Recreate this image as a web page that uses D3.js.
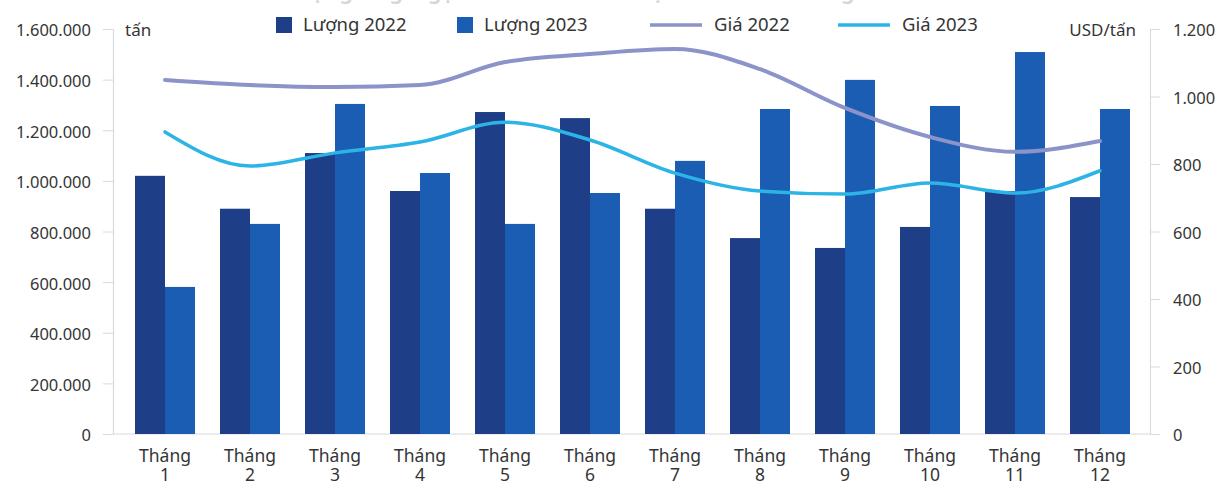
<!DOCTYPE html>
<html>
<head>
<meta charset="utf-8">
<script src="https://cdn.jsdelivr.net/npm/d3@7/dist/d3.min.js"></script>
<style>
  html, body { margin: 0; padding: 0; background: #ffffff; }
  svg { display: block; font-family: "Noto Sans", "DejaVu Sans", sans-serif; }
</style>
</head>
<body>
<svg id="chart" width="1220" height="487"></svg>
<script>
// Monthly rice export volume (tonnes) and price (USD/tonne), 2022 vs 2023
const months = ["1", "2", "3", "4", "5", "6", "7", "8", "9", "10", "11", "12"];
const volume2022 = [1020000, 890000, 1110000, 960000, 1272000, 1248000, 890000, 774000, 735000, 818000, 960000, 936000];
const volume2023 = [581000, 830000, 1304000, 1031000, 830000, 952000, 1079000, 1284000, 1399000, 1296000, 1509000, 1284000];
const price2022 = [1049, 1034, 1028, 1034, 1102, 1126, 1141, 1081, 966, 880, 836, 868];
const price2023 = [895, 794, 833, 865, 924, 871, 773, 720, 711, 744, 714, 780];
const leftTicks = [0, 200000, 400000, 600000, 800000, 1000000, 1200000, 1400000, 1600000];
const rightTicks = [0, 200, 400, 600, 800, 1000, 1200];
const seriesNames = ["Lượng 2022", "Lượng 2023", "Giá 2022", "Giá 2023"];
const titleText = "Diễn biến lượng và giá gạo xuất khẩu của Việt Nam theo tháng năm 2022 - 2023";

const C = {
  bar22: "#1e3f88",
  bar23: "#1b5db2",
  line22: "#8b93c9",
  line23: "#2db4e6",
  axis: "#dadada",
  text: "#353535"
};

const svg = d3.select("#chart");
const plotTop = 29, plotBottom = 434, plotLeft = 113, plotRight = 1150;

const vn = d3.formatLocale({ decimal: ",", thousands: ".", grouping: [3], currency: ["", ""] });
const fmt = vn.format(",");

const x = d3.scaleBand().domain(months).range([122.5, 1142.5])
  .paddingInner(25 / 85).paddingOuter(12.5 / 85);
const xSub = d3.scaleBand().domain(["2022", "2023"]).range([0, x.bandwidth()]);
const yL = d3.scaleLinear().domain([0, 1600000]).range([plotBottom, plotTop]);
const yR = d3.scaleLinear().domain([0, 1200]).range([plotBottom, plotTop]);

// Title (runs off the top edge, only its lowest strokes remain)
svg.append("text")
  .attr("x", 607).attr("y", -1)
  .attr("text-anchor", "middle")
  .attr("font-size", 22).attr("font-weight", 600)
  .attr("fill", "#9a9a9a").attr("opacity", 0.4)
  .text(titleText);

// Baseline
svg.append("line")
  .attr("x1", plotLeft).attr("x2", plotRight)
  .attr("y1", plotBottom).attr("y2", plotBottom)
  .attr("stroke", C.axis).attr("stroke-width", 1.2);

// Left axis
const gL = svg.append("g").attr("transform", `translate(${plotLeft},0)`)
  .call(d3.axisLeft(yL).tickValues(leftTicks).tickFormat(fmt).tickSizeInner(10).tickSizeOuter(0).tickPadding(12));
// Right axis
const gR = svg.append("g").attr("transform", `translate(${plotRight},0)`)
  .call(d3.axisRight(yR).tickValues(rightTicks).tickFormat(fmt).tickSizeInner(10).tickSizeOuter(0).tickPadding(13));

[gL, gR].forEach(g => {
  g.select(".domain").attr("stroke", C.axis).attr("stroke-width", 1.2);
  g.selectAll(".tick line").attr("stroke", C.axis);
  g.selectAll(".tick text")
    .attr("font-family", "'Noto Sans', sans-serif")
    .attr("font-size", 16.5).attr("fill", C.text)
    .attr("dy", "0.42em");
});

// Bars
const groups = svg.append("g").selectAll("g")
  .data(months.map((m, i) => ({ m, v: [volume2022[i], volume2023[i]] })))
  .join("g")
  .attr("transform", d => `translate(${x(d.m)},0)`);

groups.selectAll("rect")
  .data(d => [{ k: "2022", v: d.v[0] }, { k: "2023", v: d.v[1] }])
  .join("rect")
  .attr("x", d => xSub(d.k))
  .attr("width", xSub.bandwidth())
  .attr("y", d => yL(d.v))
  .attr("height", d => yL(0) - yL(d.v))
  .attr("fill", d => d.k === "2022" ? C.bar22 : C.bar23);

// Price lines
const cx = m => x(m) + x.bandwidth() / 2;
const line = d3.line().x(d => cx(d[0])).y(d => yR(d[1])).curve(d3.curveMonotoneX);
svg.append("path")
  .datum(months.map((m, i) => [m, price2022[i]]))
  .attr("d", line).attr("fill", "none")
  .attr("stroke", C.line22).attr("stroke-width", 4).attr("stroke-linecap", "round");
svg.append("path")
  .datum(months.map((m, i) => [m, price2023[i]]))
  .attr("d", line).attr("fill", "none")
  .attr("stroke", C.line23).attr("stroke-width", 3.5).attr("stroke-linecap", "round");

// Month labels: "Tháng" on the first line, the month number below
const xl = svg.append("g").attr("font-size", 17.5).attr("fill", C.text).attr("text-anchor", "middle");
xl.selectAll("text.m1").data(months).join("text").attr("class", "m1")
  .attr("x", d => cx(d)).attr("y", 462).text("Tháng");
xl.selectAll("text.m2").data(months).join("text").attr("class", "m2")
  .attr("x", d => cx(d)).attr("y", 481).text(d => d);

// Unit labels
svg.append("text").attr("x", 125).attr("y", 36)
  .attr("font-size", 17).attr("fill", C.text).text("tấn");
svg.append("text").attr("x", 1136).attr("y", 36).attr("text-anchor", "end")
  .attr("font-size", 17).attr("fill", C.text).text("USD/tấn");

// Legend
const lg = svg.append("g");
const legendItems = [
  { name: seriesNames[0], type: "rect", color: C.bar22, x: 276 },
  { name: seriesNames[1], type: "rect", color: C.bar23, x: 457 },
  { name: seriesNames[2], type: "line", color: C.line22, x: 650 },
  { name: seriesNames[3], type: "line", color: C.line23, x: 838 }
];
legendItems.forEach(it => {
  if (it.type === "rect") {
    lg.append("rect").attr("x", it.x).attr("y", 17).attr("width", 16).attr("height", 16).attr("fill", it.color);
    lg.append("text").attr("x", it.x + 27).attr("y", 31).attr("font-size", 18.5).attr("fill", C.text).text(it.name);
  } else {
    lg.append("line").attr("x1", it.x).attr("x2", it.x + 52).attr("y1", 25).attr("y2", 25)
      .attr("stroke", it.color).attr("stroke-width", 3.5);
    lg.append("text").attr("x", it.x + 64).attr("y", 31).attr("font-size", 18.5).attr("fill", C.text).text(it.name);
  }
});
</script>
</body>
</html>
